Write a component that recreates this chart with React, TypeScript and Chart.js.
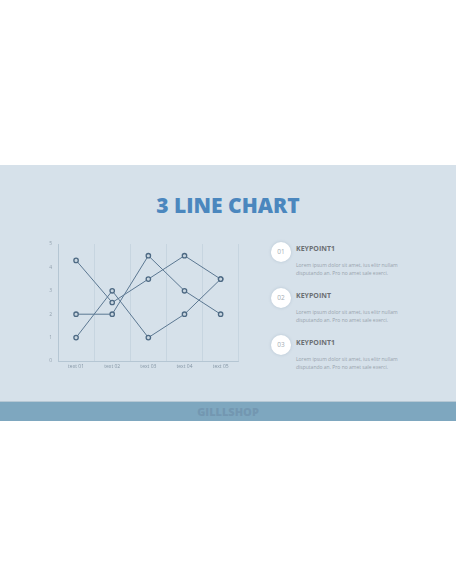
import React, { useEffect, useRef } from 'react';
import Chart from 'chart.js/auto';

const categories = ['text 01', 'text 02', 'text 03', 'text 04', 'text 05'];
const seriesA = [4.3, 2.5, 3.5, 4.5, 3.5];
const seriesB = [2, 2, 4.5, 3, 2];
const seriesC = [1, 3, 1, 2, 3.5];
const yTicks = [0, 1, 2, 3, 4, 5];

const keypoints = ['KEYPOINT1', 'KEYPOINT', 'KEYPOINT1'];
const keyNumbers = ['01', '02', '03'];
const loremLines = ['Lorem ipsum dolor sit amet, ius elitr nullam', 'disputando an. Pro no amet sale exerci.'];

const LINE = '#5b7791';

const LineChart: React.FC = () => {
  const chartRef = useRef<HTMLCanvasElement>(null);
  const chartInstance = useRef<Chart | null>(null);

  useEffect(() => {
    if (!chartRef.current) return;
    if (chartInstance.current) chartInstance.current.destroy();
    const ctx = chartRef.current.getContext('2d');
    if (!ctx) return;

    const mk = (data: number[]) => ({
      data,
      borderColor: LINE,
      borderWidth: 1,
      pointRadius: 2.2,
      pointBorderWidth: 1.3,
      pointBackgroundColor: '#c9d6e0',
      pointBorderColor: '#4e6a84',
      tension: 0,
      fill: false,
    });

    chartInstance.current = new Chart(ctx, {
      type: 'line',
      data: {
        labels: categories,
        datasets: [mk(seriesA), mk(seriesB), mk(seriesC)],
      },
      options: {
        responsive: false,
        animation: false,
        layout: { padding: 0 },
        plugins: { legend: { display: false }, tooltip: { enabled: false } },
        scales: {
          x: {
            offset: true,
            grid: { display: true, offset: true, color: '#c3d2dd', lineWidth: 0.8, drawTicks: false },
            border: { display: true, color: '#b5c6d3', width: 1 },
            ticks: { color: '#8596a5', font: { size: 5, family: 'Open Sans' }, padding: 3 },
            afterFit: (s: any) => { s.height = 11; },
          },
          y: {
            min: 0,
            max: 5,
            afterBuildTicks: (s: any) => { s.ticks = yTicks.map(v => ({ value: v })); },
            grid: { display: false, drawTicks: false },
            border: { display: true, color: '#b5c6d3', width: 1 },
            ticks: { color: '#95a3b0', font: { size: 5, family: 'Open Sans' }, padding: 6 },
            afterFit: (s: any) => { s.width = 18; },
          },
        },
      },
    });

    return () => {
      if (chartInstance.current) {
        chartInstance.current.destroy();
        chartInstance.current = null;
      }
    };
  }, []);

  return <canvas ref={chartRef} width={204} height={137} style={{ width: 204, height: 137 }} />;
};

const App: React.FC = () => {
  const headY = [249, 296, 343];
  const circleY = [252, 298, 345];
  return (
    <div style={{ position: 'absolute', left: 0, top: 0, width: 456, height: 586, background: '#ffffff', fontFamily: 'Open Sans, sans-serif', overflow: 'hidden' }}>
      <div style={{ position: 'absolute', left: 0, top: 165, width: 456, height: 256, background: '#d6e1ea' }} />
      <div style={{ position: 'absolute', left: 0, top: 401, width: 456, height: 20, background: '#7ea7bf', borderTop: '1px solid #b6c8d4', boxSizing: 'border-box' }} />
      <div style={{ position: 'absolute', left: 0, top: 401, width: 456, height: 20, lineHeight: '21px', textAlign: 'center', color: '#7397b1', fontWeight: 800, fontSize: 11 }}>GILLLSHOP</div>
      <div style={{ position: 'absolute', left: 0, top: 190, width: 456, lineHeight: '30px', textAlign: 'center', color: '#4b87be', fontWeight: 800, fontSize: 21 }}>3 LINE CHART</div>
      <div style={{ position: 'absolute', left: 40, top: 235 }}>
        <LineChart />
      </div>
      {keypoints.map((k, i) => (
        <React.Fragment key={i}>
          <div style={{ position: 'absolute', left: 271, top: circleY[i] - 10, width: 20, height: 20, borderRadius: 10, background: '#ffffff', boxShadow: '0 0 3px rgba(80,110,140,0.25)', textAlign: 'center', lineHeight: '20px', fontSize: 6.5, color: '#a4adb5' }}>{keyNumbers[i]}</div>
          <div style={{ position: 'absolute', left: 296, top: headY[i] - 5, lineHeight: '10px', fontSize: 7, fontWeight: 700, color: '#6b6f73' }}>{k}</div>
          {loremLines.map((l, j) => (
            <div key={j} style={{ position: 'absolute', left: 296, top: headY[i] + 16 + j * 8 - 4, lineHeight: '8px', fontSize: 5, color: '#98a3ad', whiteSpace: 'nowrap' }}>{l}</div>
          ))}
        </React.Fragment>
      ))}
    </div>
  );
};

export default App;
